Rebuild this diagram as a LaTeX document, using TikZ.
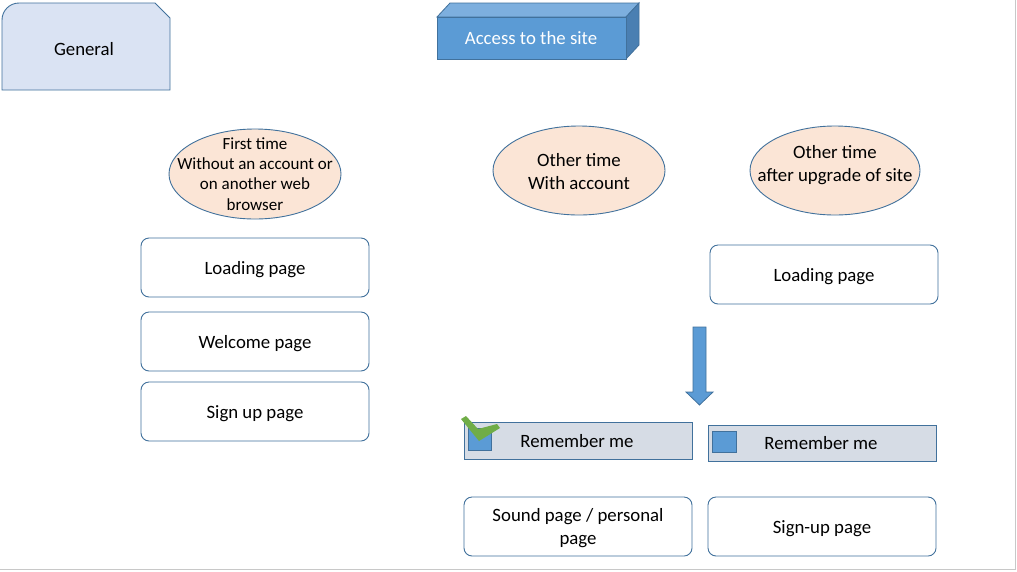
\documentclass[tikz,border=0pt]{standalone}
\usepackage{fontspec}
\setmainfont{Carlito}
\usetikzlibrary{shapes.geometric,calc}
\definecolor{bord}{HTML}{41719C}
\definecolor{genfill}{HTML}{DAE3F3}
\definecolor{cubefront}{HTML}{5B9BD5}
\definecolor{cubetop}{HTML}{7DAFDE}
\definecolor{cubeside}{HTML}{4A7FB2}
\definecolor{ellfill}{HTML}{FBE5D6}
\definecolor{remfill}{HTML}{D6DCE5}
\definecolor{chk}{HTML}{70AD47}
\definecolor{pageedge}{HTML}{C8C8C8}
\tikzset{
  bigfont/.style={font=\fontsize{18.8}{22}\selectfont},
  pagebox/.style={draw=bord, line width=0.9pt, rounded corners=8pt, fill=white, bigfont, text height=17pt, text depth=4pt},
  ellshape/.style={draw=bord, line width=0.9pt, fill=ellfill},
  rembox/.style={draw=bord, line width=0.9pt, fill=remfill, bigfont},
  tick/.style={draw=bord, line width=0.8pt, fill=cubefront},
}
\begin{document}
\begin{tikzpicture}[x=1pt,y=-1pt]
\useasboundingbox (0,0) rectangle (1017,571);
\fill[white] (0,0) rectangle (1017,571);
\draw[pageedge, line width=1pt] (1015.5,0) -- (1015.5,569.5) -- (0,569.5);

% General
\draw[bord, line width=0.9pt, fill=genfill] (2,90) -- (2,20) arc[start angle=180, end angle=270, radius=17] -- (155,3) -- (170,18) -- (170,90) -- cycle;
\node[bigfont] (general) at (84,49) {General};

% Cube
\draw[bord, line width=0.8pt, fill=cubetop] (437,17) -- (450,3) -- (639,3) -- (626,17) -- cycle;
\draw[bord, line width=0.8pt, fill=cubeside] (626,17) -- (639,3) -- (639,45) -- (626,59) -- cycle;
\draw[bord, line width=0.8pt, fill=cubefront] (437,17) rectangle (626,59);
\node[text=white, bigfont] (access) at (531,38) {Access to the site};

% Ellipses
\draw[ellshape] (255,174) ellipse [x radius=86, y radius=45];
\node[align=center, font=\fontsize{17}{20.3}\selectfont] (first) at (255,174) {First time\\Without an account or\\on another web\\browser};
\draw[ellshape] (579,170.5) ellipse [x radius=86, y radius=44.5];
\node[align=center, font=\fontsize{18.8}{23}\selectfont] (other) at (579,172) {Other time\\With account};
\draw[ellshape] (835,170.5) ellipse [x radius=85, y radius=44.5];
\node[align=center, font=\fontsize{18.8}{23}\selectfont] (upgrade) at (835,165) {Other time\\after upgrade of site};

% Left column
\node[pagebox, minimum width=228pt, minimum height=59pt] (load1) at (255,267.5) {Loading page};
\node[pagebox, minimum width=228pt, minimum height=59pt] (welcome) at (255,341.5) {Welcome page};
\node[pagebox, minimum width=228pt, minimum height=59pt] (signup) at (255,411.5) {Sign up page};

% Right column
\node[pagebox, minimum width=228pt, minimum height=59pt] (load2) at (824,274.5) {Loading page};

% Down arrow
\draw[bord, line width=0.8pt, fill=cubefront] (693,327) -- (706,327) -- (706,392) -- (713,392) -- (699.5,405) -- (686,392) -- (693,392) -- cycle;
\coordinate (arrowtip) at (699.5,405);

% Remember me boxes
\node[rembox, minimum width=228pt, minimum height=37pt] (rem1) at (578,440.5) {};
\node[bigfont] (rem1text) at (577,441) {Remember me};
\node[rembox, minimum width=228pt, minimum height=36pt] (rem2) at (822,443) {};
\node[bigfont] (rem2text) at (821,443) {Remember me};
\draw[tick] (468,428) rectangle (491,450);
\draw[tick] (712,431) rectangle (736,452);
\fill[chk] (461,419) -- (466,416) -- (478,429) -- (497,424) -- (500,428) -- (479,441) -- cycle;

% Bottom boxes
\node[draw=bord, line width=0.9pt, rounded corners=8pt, fill=white, minimum width=228pt, minimum height=59pt] (sound) at (578,526.5) {};
\node[align=center, font=\fontsize{18.8}{23}\selectfont] (soundtext) at (578,528) {Sound page / personal\\page};
\node[pagebox, minimum width=228pt, minimum height=59pt] (signup2) at (822,526.5) {Sign-up page};
\end{tikzpicture}
\end{document}
